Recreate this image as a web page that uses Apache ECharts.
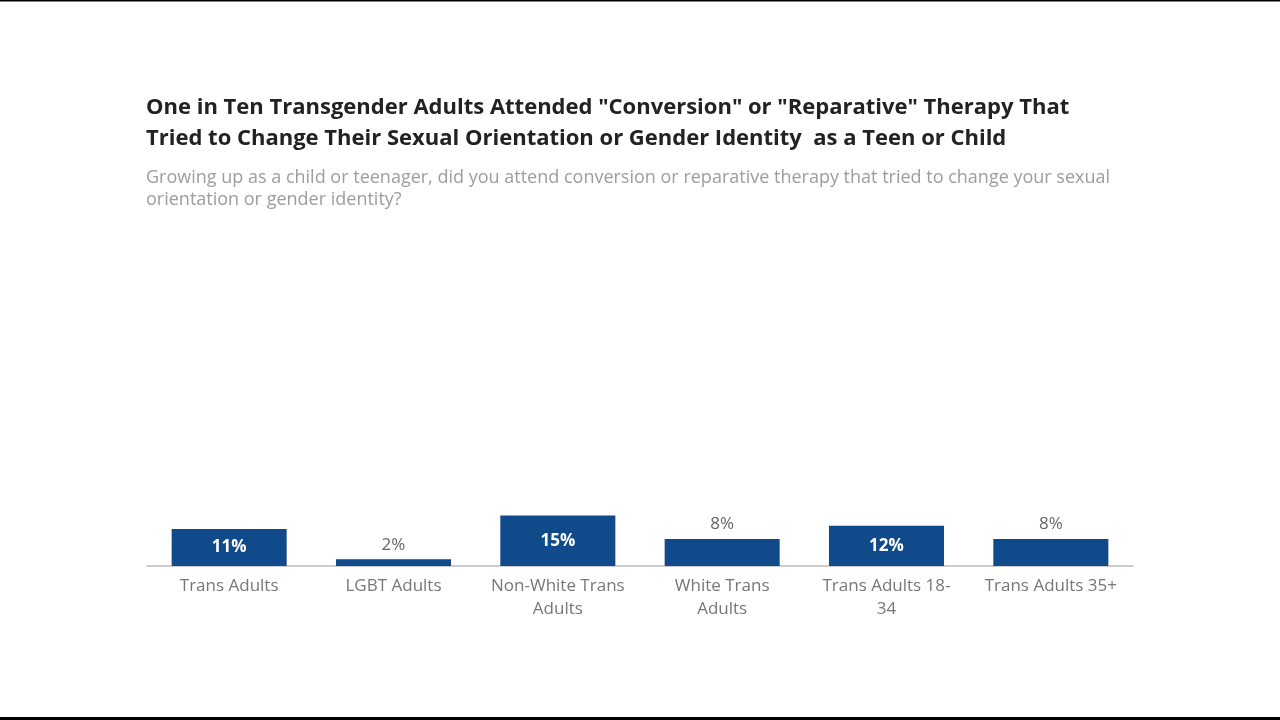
<!DOCTYPE html>
<html>
<head>
<meta charset="utf-8">
<script src="https://cdn.jsdelivr.net/npm/echarts@6/dist/echarts.min.js"></script>
<style>
html,body{margin:0;padding:0;background:#fff;}
#chart{width:1280px;height:720px;}
</style>
</head>
<body>
<div id="chart"></div>
<script>
const categories = ["Trans Adults", "LGBT Adults", "Non-White Trans\nAdults", "White Trans\nAdults", "Trans Adults 18-\n34", "Trans Adults 35+"];
const values = [11, 2, 15, 8, 12, 8];
const insideThreshold = 10;

const chart = echarts.init(document.getElementById('chart'));
const data = values.map(v => ({
  value: v,
  label: v >= insideThreshold
    ? { position: 'inside', color: '#ffffff', fontWeight: 'bold' }
    : { position: 'top', color: '#666666', fontWeight: 'normal', distance: 6 }
}));

chart.setOption({
  animation: false,
  backgroundColor: '#ffffff',
  title: [{
    text: 'One in Ten Transgender Adults Attended "Conversion" or "Reparative" Therapy That\nTried to Change Their Sexual Orientation or Gender Identity  as a Teen or Child',
    left: 146, top: 92, padding: 0,
    textStyle: { fontFamily: 'Open Sans', fontSize: 22, fontWeight: 'bold', color: '#222222', lineHeight: 31 }
  }, {
    text: 'Growing up as a child or teenager, did you attend conversion or reparative therapy that tried to change your sexual\norientation or gender identity?',
    left: 146, top: 167, padding: 0,
    textStyle: { fontFamily: 'Open Sans', fontSize: 18, fontWeight: 'normal', color: '#9d9d9d', lineHeight: 22 }
  }],
  grid: { left: 147, right: 147, top: 230, bottom: 154, containLabel: false },
  xAxis: {
    type: 'category',
    data: categories,
    axisLine: { show: true, lineStyle: { color: '#cccccc', width: 2 } },
    axisTick: { show: false },
    axisLabel: { color: '#777777', fontFamily: 'Open Sans', fontSize: 17, margin: 9, lineHeight: 23, interval: 0 }
  },
  yAxis: {
    type: 'value', min: 0, max: 100, show: false,
    splitLine: { show: false }
  },
  series: [{
    type: 'bar',
    data: data,
    barWidth: '70%',
    itemStyle: { color: '#114a8b' },
    label: {
      show: true,
      formatter: p => p.value + '%',
      fontFamily: 'Open Sans', fontSize: 17
    }
  }],
  graphic: [
    { type: 'rect', shape: { x: 0, y: 0, width: 1280, height: 1.5 }, style: { fill: '#000000' } },
    { type: 'rect', shape: { x: 0, y: 717, width: 1280, height: 3 }, style: { fill: '#000000' } }
  ]
});
</script>
</body>
</html>
